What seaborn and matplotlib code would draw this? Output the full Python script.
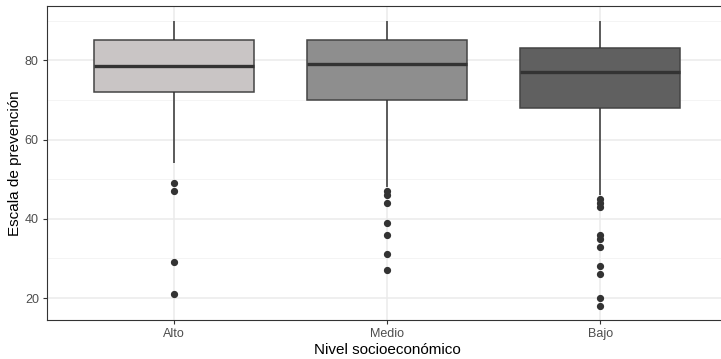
import numpy as np
import pandas as pd
import matplotlib
matplotlib.use("Agg")
import matplotlib.pyplot as plt
import seaborn as sns

# Prevention scale scores by socioeconomic level
categorias = ["Alto", "Medio", "Bajo"]

alto = [21, 29, 47, 49, 54, 72, 74, 75, 76, 77, 78.5, 80, 81, 82, 84, 85,
        86, 87, 88, 89, 90]
medio = [27, 31, 36, 39, 44, 46, 47, 48, 70, 72, 73, 74, 75, 76, 77, 78, 79,
         80, 81, 81, 82, 83, 84, 84, 85, 86, 86, 87, 88, 88, 89, 89, 90]
bajo = [18, 20, 26, 28, 33, 35, 36, 43, 44, 45, 46, 68, 69, 70, 71, 72, 73,
        73, 74, 75, 75, 76, 77, 78, 78, 79, 79, 80, 80, 81, 81, 82, 82, 83,
        84, 84, 85, 85, 86, 87, 87, 88, 89, 89, 90]

colores = ["#C9C5C5", "#8E8E8E", "#606060"]
yticks = [20, 40, 60, 80]

df = pd.DataFrame({
    "nivel": ["Alto"] * len(alto) + ["Medio"] * len(medio) + ["Bajo"] * len(bajo),
    "escala": alto + medio + bajo,
})

sns.set_theme(style="white")
plt.rcParams["font.family"] = ["Liberation Sans", "DejaVu Sans"]

fig = plt.figure(figsize=(7.21, 3.59), dpi=100)
ax = fig.add_axes([46.5 / 721, 38.7 / 359, 681.5 / 721, 314 / 359])

sns.boxplot(
    data=df, x="nivel", y="escala", hue="nivel", order=categorias,
    hue_order=categorias, palette=colores, saturation=1, legend=False,
    width=0.75, whis=1.5, linecolor="#444444", linewidth=1.1, ax=ax,
    medianprops=dict(color="#333333", linewidth=2.4),
    whiskerprops=dict(color="#333333", linewidth=1.1),
    capprops=dict(linewidth=0),
    flierprops=dict(marker="o", markersize=4.2, markerfacecolor="#333333",
                    markeredgecolor="#333333"),
    zorder=3,
)

ax.set_xlim(-0.6, 2.6)
ax.set_ylim(14.4, 93.6)
ax.set_yticks(yticks)
ax.set_yticks([30, 50, 70, 90], minor=True)

ax.set_axisbelow(True)
ax.grid(True, which="major", color="#EBEBEB", linewidth=1.1)
ax.grid(True, which="minor", axis="y", color="#F2F2F2", linewidth=0.6)

for name, s in ax.spines.items():
    s.set_visible(name != "right")
    s.set_color("#333333")
    s.set_linewidth(0.8)

ax.tick_params(axis="both", which="major", length=3, width=0.8, color="#333333",
               labelsize=9, labelcolor="#4D4D4D", pad=2.5, bottom=True, left=True)
ax.tick_params(axis="both", which="minor", length=0)

ax.set_xlabel("Nivel socioeconómico", fontsize=11, color="black", labelpad=2)
ax.set_ylabel("Escala de prevención", fontsize=11, color="black", labelpad=2)

fig.savefig("out.png", dpi=100)
